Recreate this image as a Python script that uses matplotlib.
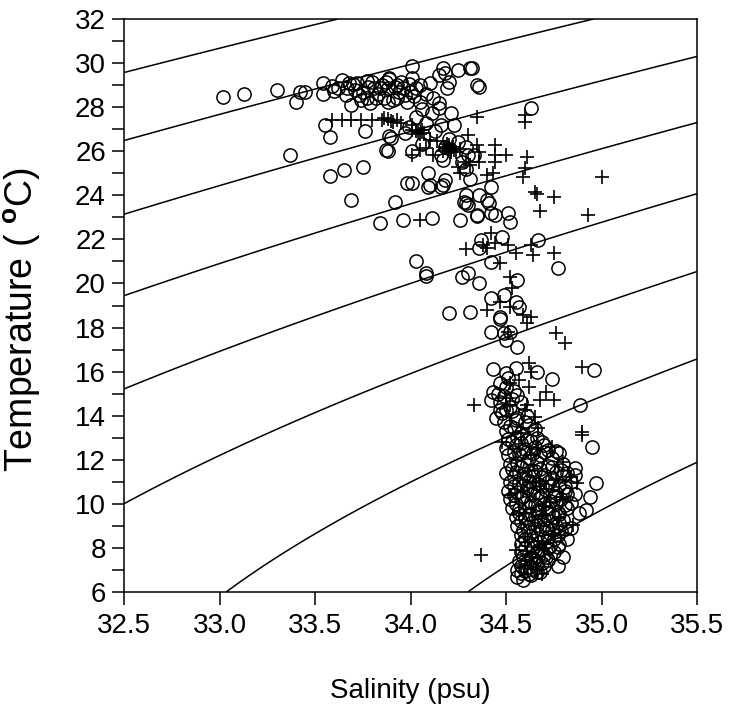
import numpy as np
import matplotlib
matplotlib.use("Agg")
import matplotlib.pyplot as plt
from matplotlib.ticker import MultipleLocator

plt.rcParams['font.family'] = ['Liberation Sans', 'DejaVu Sans']
plt.rcParams['mathtext.fontset'] = 'custom'
plt.rcParams['mathtext.rm'] = 'Liberation Sans'
plt.rcParams['mathtext.bf'] = 'Liberation Sans:bold'

# sigma-t isopycnal levels (kg/m3 - 1000)
density_levels = [20, 21, 22, 23, 24, 25, 26, 27]

# open circles (salinity psu, temperature degC)
circle_salinity = [
    33.02, 33.13, 33.30, 33.42, 33.45, 33.40, 33.54, 33.54, 33.59, 33.64, 33.67, 33.72, 33.78, 33.81, 33.85, 33.89, 33.92,
    33.69, 33.74, 33.77, 33.82, 33.88, 33.93,
    33.55, 33.58, 33.76, 33.37, 33.58, 33.65, 33.75, 33.88, 33.90, 33.69, 33.92,
    34.01, 34.01, 34.17, 34.15, 34.18, 34.20, 34.19, 34.10, 34.25, 34.31, 34.32, 34.35, 34.36,
    33.89, 33.93, 33.88, 33.96, 34.00, 34.03, 33.86, 33.91, 33.98, 34.05,
    34.15, 34.15, 34.21, 34.11, 34.03, 33.89, 33.87, 33.97, 34.16, 34.23, 34.01, 34.16, 34.17, 34.29, 34.30, 34.33,
    34.29, 34.31, 34.09, 34.10, 33.98, 34.01, 34.18, 34.16, 34.63,
    33.70, 33.75, 33.80, 33.83, 33.95, 34.05, 33.97, 34.08, 34.12, 33.62, 33.66, 33.79, 34.06, 33.99, 34.08, 34.13,
    34.20, 34.25, 34.06, 34.18, 34.27,
    33.60, 33.68, 33.73, 33.77, 33.84, 33.87, 33.94, 33.99, 34.02, 33.71,
    34.29, 33.84, 33.96, 34.11, 34.26, 34.35, 34.03, 34.08, 34.08, 34.27, 34.30, 34.20, 34.31,
    34.09, 34.17, 34.29, 34.36, 34.28, 34.30, 34.40, 34.41, 34.42, 34.35, 34.42, 34.44, 34.51, 34.52, 34.37, 34.36,
    34.48, 34.42, 34.67, 34.77, 34.36, 34.56, 34.42, 34.49, 34.55, 34.57, 34.47, 34.42, 34.49, 34.52, 34.47, 34.50, 34.56,
    34.43, 34.50, 34.55, 34.66, 34.74, 34.51, 34.43, 34.42, 34.56, 34.96, 34.89, 34.95, 34.70, 34.47, 34.45, 34.60,
    34.97, 34.94, 34.92, 34.86,
    34.46, 34.49, 34.54, 34.47, 34.52, 34.58, 34.48, 34.53, 34.61, 34.49, 34.55, 34.62, 34.50, 34.54, 34.58, 34.65,
    34.51, 34.56, 34.61, 34.66, 34.50, 34.55, 34.60, 34.65, 34.72, 34.51, 34.57, 34.62, 34.68, 34.74, 34.78,
    34.52, 34.56, 34.61, 34.66, 34.72, 34.80, 34.50, 34.55, 34.60, 34.65, 34.70, 34.76, 34.82, 34.86,
    34.52, 34.57, 34.62, 34.67, 34.72, 34.78, 34.84, 34.51, 34.56, 34.61, 34.66, 34.71, 34.76, 34.81, 34.86,
    34.52, 34.58, 34.63, 34.68, 34.73, 34.79, 34.84, 34.53, 34.57, 34.62, 34.67, 34.72, 34.77, 34.82, 34.88,
    34.55, 34.60, 34.65, 34.70, 34.75, 34.80, 34.56, 34.61, 34.66, 34.71, 34.76, 34.81,
    34.58, 34.62, 34.67, 34.72, 34.77, 34.58, 34.63, 34.68, 34.73, 34.78,
    34.58, 34.62, 34.66, 34.70, 34.75, 34.57, 34.61, 34.65, 34.69, 34.72,
    34.56, 34.60, 34.64, 34.68, 34.56, 34.59, 34.63, 34.82, 34.84, 34.80, 34.77,
    34.53, 34.58, 34.63, 34.69, 34.54, 34.59, 34.64, 34.70, 34.76,
    34.53, 34.58, 34.63, 34.68, 34.74, 34.79, 34.54, 34.59, 34.64, 34.69, 34.74, 34.80,
    34.54, 34.59, 34.64, 34.69, 34.74, 34.81, 34.54, 34.59, 34.64, 34.69, 34.75, 34.82,
    34.55, 34.60, 34.65, 34.70, 34.76, 34.81, 34.57, 34.62, 34.67, 34.72, 34.78,
    34.58, 34.63, 34.68, 34.73, 34.78, 34.59, 34.64, 34.69, 34.74, 34.79,
    34.60, 34.65, 34.70, 34.75, 34.60, 34.64, 34.68, 34.72, 34.77,
    34.59, 34.63, 34.67, 34.71, 34.58, 34.62, 34.66, 34.70, 34.58, 34.62, 34.66,
    34.47, 34.50, 34.53, 34.50, 34.56, 34.52,
]
circle_temperature = [
    28.45, 28.60, 28.76, 28.70, 28.68, 28.25, 29.10, 28.58, 28.97, 29.23, 28.88, 29.10, 28.93, 28.87, 29.00, 29.30, 28.93,
    28.10, 28.32, 28.40, 28.40, 28.25, 28.40,
    27.20, 26.66, 26.93, 25.83, 24.89, 25.15, 25.27, 26.03, 26.58, 23.80, 23.70,
    29.85, 29.32, 29.76, 29.46, 29.53, 29.16, 28.85, 29.09, 29.68, 29.76, 29.76, 29.00, 28.90,
    29.32, 29.00, 28.85, 28.85, 28.70, 28.85, 28.40, 28.33, 28.25, 28.25,
    28.17, 27.95, 27.72, 27.72, 27.57, 26.67, 26.05, 26.82, 27.20, 27.20, 26.00, 25.83, 25.60, 26.20, 25.83, 25.83,
    25.20, 24.76, 24.99, 24.47, 24.54, 24.54, 24.69, 24.39, 27.95,
    29.05, 28.70, 29.15, 28.60, 29.15, 29.00, 28.55, 28.60, 28.40, 28.85, 28.55, 28.20, 27.90, 27.10, 27.30, 26.90,
    26.55, 26.40, 26.35, 26.20, 25.50,
    28.75, 29.10, 28.55, 29.20, 28.85, 29.15, 28.70, 29.05, 28.50, 28.80,
    23.64, 22.75, 22.88, 22.96, 22.88, 23.04, 21.00, 20.46, 20.34, 20.28, 20.46, 18.67, 18.72,
    24.39, 24.47, 24.01, 24.01, 23.71, 23.56, 23.79, 23.64, 24.39, 23.11, 23.19, 23.11, 23.19, 22.80, 21.97, 21.59,
    22.12, 20.99, 21.97, 20.69, 20.01, 20.16, 19.32, 19.48, 19.17, 18.95, 18.46, 17.80, 17.73, 17.80, 18.40, 17.43, 17.13,
    16.10, 15.92, 16.15, 15.99, 15.65, 15.69, 15.09, 14.71, 14.94, 16.07, 14.48, 12.60, 12.67, 14.26, 13.88, 13.73,
    10.96, 10.30, 9.72, 11.61,
    15.00, 14.90, 15.10, 14.60, 14.40, 14.60, 14.10, 14.20, 14.00, 13.70, 13.80, 13.60, 13.30, 13.45, 13.20, 13.40,
    12.95, 13.05, 12.90, 13.00, 12.55, 12.65, 12.50, 12.60, 12.45, 12.20, 12.25, 12.10, 12.20, 12.10, 12.30,
    11.80, 11.85, 11.75, 11.90, 11.70, 11.80, 11.40, 11.45, 11.35, 11.50, 11.30, 11.45, 11.40, 11.30,
    11.00, 10.95, 11.05, 10.90, 11.00, 10.85, 11.00, 10.60, 10.55, 10.70, 10.50, 10.65, 10.50, 10.60, 10.45,
    10.20, 10.25, 10.10, 10.30, 10.15, 10.20, 10.05, 9.80, 9.75, 9.85, 9.70, 9.80, 9.65, 9.80, 9.60,
    9.40, 9.35, 9.45, 9.30, 9.40, 9.25, 9.00, 8.95, 9.05, 8.90, 9.00, 8.85,
    8.60, 8.55, 8.65, 8.50, 8.60, 8.20, 8.15, 8.25, 8.10, 8.20,
    7.80, 7.75, 7.85, 7.70, 7.80, 7.40, 7.35, 7.45, 7.30, 7.45,
    7.00, 6.95, 7.05, 6.90, 6.70, 6.55, 6.75, 8.40, 8.90, 7.60, 7.20,
    12.80, 12.75, 12.85, 12.80, 12.35, 12.40, 12.30, 12.35, 12.40,
    11.60, 11.65, 11.55, 11.60, 11.65, 11.55, 11.20, 11.15, 11.25, 11.20, 11.15, 11.25,
    10.80, 10.85, 10.75, 10.80, 10.85, 10.75, 10.40, 10.35, 10.45, 10.40, 10.35, 10.45,
    10.00, 10.05, 9.95, 10.00, 10.05, 9.95, 9.60, 9.55, 9.65, 9.60, 9.55,
    9.20, 9.15, 9.25, 9.20, 9.15, 8.80, 8.75, 8.85, 8.80, 8.75,
    8.40, 8.35, 8.45, 8.40, 8.00, 8.05, 7.95, 8.00, 8.05,
    7.60, 7.55, 7.65, 7.60, 7.20, 7.15, 7.25, 7.20, 6.85, 6.80, 6.90,
    15.50, 15.30, 14.75, 14.25, 13.90, 13.55,
]

# crosses (salinity psu, temperature degC)
cross_salinity = [
    33.59, 33.64, 33.69, 33.74, 33.80, 33.85, 33.88, 33.90, 33.93, 33.86, 33.91, 33.95,
    34.03, 34.05, 34.01, 34.07, 34.19, 34.21, 34.22, 34.17, 34.14, 34.24, 34.20, 34.26,
    34.04, 34.06, 34.18, 34.20, 34.23, 34.21, 34.19,
    34.35, 34.60, 34.60, 34.30, 34.35, 34.36, 34.44, 34.44, 34.50, 34.44, 34.36, 34.29, 34.10, 34.08, 34.12,
    34.61, 34.60, 34.59, 34.65, 34.01, 34.05, 34.01, 34.25, 34.26, 34.43, 34.40, 34.31, 35.00, 34.75, 34.66,
    34.68, 34.93, 34.05, 34.29,
    34.42, 34.44, 34.40, 34.38, 34.51, 34.55, 34.63, 34.64, 34.75, 34.47, 34.52, 34.53, 34.47, 34.52, 34.40,
    34.59, 34.63, 34.61, 34.76, 34.51, 34.81, 34.90, 34.90, 34.90, 34.71, 34.68, 34.75, 34.62, 34.63, 34.57,
    34.62, 34.60, 34.65, 34.67, 34.50, 34.52, 34.33, 34.37, 34.87, 34.85, 34.63,
    34.55, 34.62, 34.68, 34.73, 34.80, 34.84, 34.78, 34.65, 34.60, 34.70, 34.63, 34.58, 34.66, 34.58, 34.52,
    34.75, 34.57, 34.69, 34.74, 34.55, 34.66, 34.80, 34.48, 34.61, 34.52,
    34.64, 34.71, 34.60, 34.67, 34.76, 34.59, 34.69,
]
cross_temperature = [
    27.42, 27.42, 27.40, 27.42, 27.44, 27.40, 27.45, 27.38, 27.42, 27.50, 27.34, 27.26,
    26.90, 26.80, 26.95, 26.85, 26.13, 26.05, 26.20, 26.00, 26.45, 25.95, 26.30, 26.10,
    26.85, 26.95, 26.20, 26.10, 26.05, 25.95, 26.35,
    27.57, 27.64, 27.34, 26.74, 26.29, 25.98, 26.29, 25.83, 25.83, 25.53, 25.53, 25.53, 26.50, 26.13, 25.83,
    25.76, 25.22, 24.85, 24.17, 27.20, 26.05, 25.83, 25.30, 25.00, 25.00, 24.92, 25.37, 24.85, 23.92, 24.07,
    23.31, 23.10, 22.88, 21.55,
    22.30, 21.84, 21.61, 21.76, 21.76, 21.38, 21.76, 21.30, 21.38, 20.92, 20.31, 19.78, 19.17, 18.95, 18.80,
    18.57, 18.50, 18.19, 17.73, 17.80, 17.28, 16.22, 13.27, 13.12, 15.09, 14.71, 14.71, 16.37, 15.99, 15.62,
    15.31, 14.26, 13.96, 13.43, 14.79, 14.48, 14.48, 7.68, 10.96, 9.04, 12.20,
    12.00, 11.50, 10.80, 10.10, 11.90, 11.20, 9.40, 9.00, 8.50, 8.00, 7.60, 7.20, 12.50, 13.20, 10.40,
    8.60, 9.60, 9.50, 12.60, 7.90, 7.00, 10.30, 12.80, 14.50, 15.50,
    11.00, 9.90, 7.40, 8.30, 11.10, 10.60, 6.80,
]

x_ticks = [32.5, 33.0, 33.5, 34.0, 34.5, 35.0, 35.5]
y_ticks = [6, 8, 10, 12, 14, 16, 18, 20, 22, 24, 26, 28, 30, 32]


def sigma_t(S, T):
    """UNESCO (1980) equation of state at surface pressure, minus 1000."""
    rho_w = (999.842594 + 6.793952e-2 * T - 9.095290e-3 * T**2 + 1.001685e-4 * T**3
             - 1.120083e-6 * T**4 + 6.536332e-9 * T**5)
    A = 8.24493e-1 - 4.0899e-3 * T + 7.6438e-5 * T**2 - 8.2467e-7 * T**3 + 5.3875e-9 * T**4
    B = -5.72466e-3 + 1.0227e-4 * T - 1.6546e-6 * T**2
    C = 4.8314e-4
    return rho_w + A * S + B * S**1.5 + C * S**2 - 1000.0


fig = plt.figure(figsize=(7.32, 7.04), dpi=100)
ax = fig.add_axes([0.1694, 0.1591, 0.7828, 0.8139])

Sg, Tg = np.meshgrid(np.linspace(x_ticks[0], x_ticks[-1], 300), np.linspace(y_ticks[0], y_ticks[-1], 300))
ax.contour(Sg, Tg, sigma_t(Sg, Tg), levels=density_levels, colors='black', linewidths=1.1, zorder=1)

ax.plot(circle_salinity, circle_temperature, linestyle='none', marker='o', markersize=9.5,
        markerfacecolor='none', markeredgecolor='black', markeredgewidth=1.1, zorder=3)
ax.plot(cross_salinity, cross_temperature, linestyle='none', marker='+', markersize=10.5,
        color='black', markeredgewidth=1.2, zorder=3)

ax.set_xlim(x_ticks[0], x_ticks[-1])
ax.set_ylim(y_ticks[0], y_ticks[-1])
ax.set_xticks(x_ticks)
ax.set_xticklabels([f"{v:.1f}" for v in x_ticks])
ax.set_yticks(y_ticks)
ax.yaxis.set_minor_locator(MultipleLocator(1))
ax.tick_params(axis='both', which='both', direction='out', length=9, width=1.1, labelsize=20, color='black')
ax.tick_params(axis='x', pad=6)
ax.tick_params(axis='y', pad=4)
for sp in ax.spines.values():
    sp.set_linewidth(1.1)

ax.set_xlabel('Salinity (psu)', fontsize=20, labelpad=28)
ax.set_ylabel(r'Temperature ( $\mathbf{^o}$C)', fontsize=27, va='center', ha='center')
ax.yaxis.set_label_coords(-0.178, 0.475)

fig.savefig('out.png', dpi=100)
